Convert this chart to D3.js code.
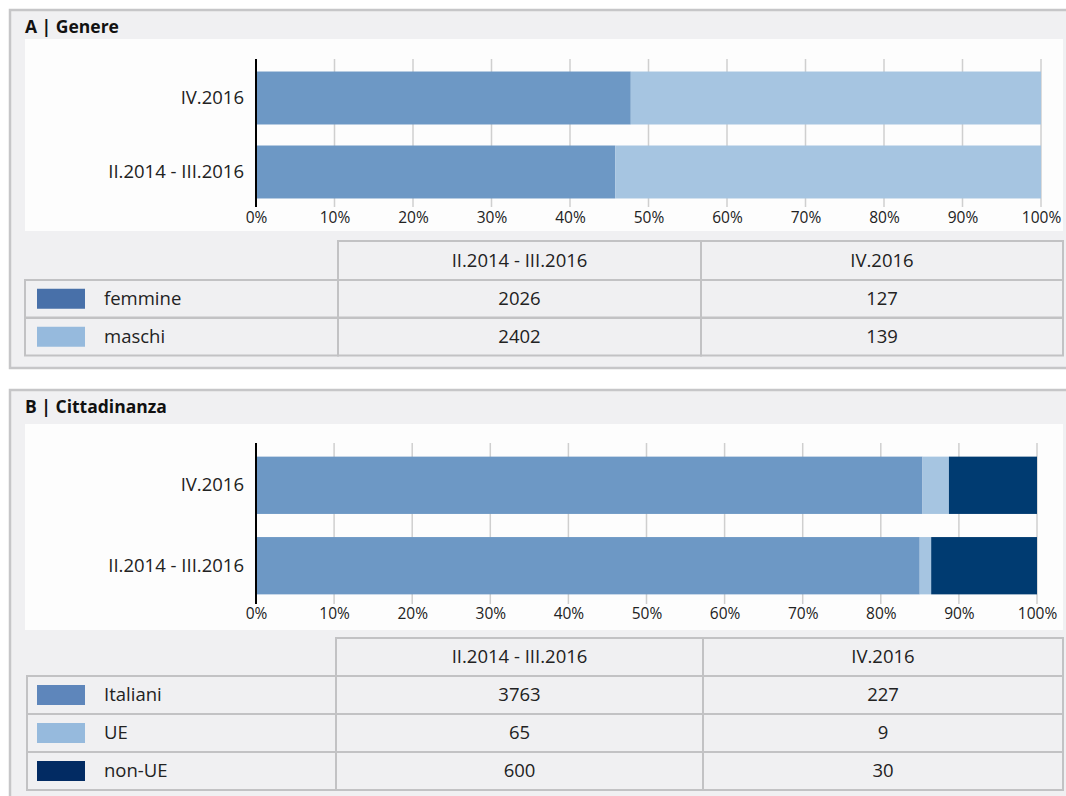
<!DOCTYPE html>
<html><head><meta charset="utf-8">
<script src="https://cdn.jsdelivr.net/npm/d3@7"></script>
<style>
html,body{margin:0;padding:0;background:#fff;}
svg{display:block;font-family:"Open Sans",sans-serif;}
</style></head>
<body>
<svg id="c" width="1066" height="796"></svg>
<script>
// ---- data ----
const periods = ["II.2014 - III.2016", "IV.2016"];
const barOrder = ["IV.2016", "II.2014 - III.2016"];
const genderCats = ["femmine", "maschi"];
const femmine = [2026, 127];
const maschi = [2402, 139];
const citCats = ["Italiani", "UE", "non-UE"];
const italiani = [3763, 227];
const ue = [65, 9];
const nonUE = [600, 30];
const tickValues = [0, 0.1, 0.2, 0.3, 0.4, 0.5, 0.6, 0.7, 0.8, 0.9, 1.0];

const svg = d3.select("#c");
const tickFmt = d3.format(".0%");
const FS = 18.5;

function drawPanel(cfg) {
  const g = svg.append("g");
  g.append("rect").attr("x", 10).attr("y", cfg.top).attr("width", 1070).attr("height", cfg.bottom - cfg.top)
    .attr("fill", "#f0f0f2").attr("stroke", "#c6c6c8").attr("stroke-width", 2.5);
  g.append("text").attr("x", 25).attr("y", cfg.top + 23).attr("font-size", 17.5).attr("font-weight", "bold")
    .attr("fill", "#111").text(cfg.title);
  g.append("rect").attr("x", 25).attr("y", cfg.chartTop).attr("width", 1038).attr("height", cfg.chartBottom - cfg.chartTop)
    .attr("fill", "#fdfdfd");

  const rows = periods.map((p, i) => {
    const r = { period: p };
    cfg.cats.forEach((c, j) => r[c] = cfg.series[j][i]);
    return r;
  });
  const stacked = d3.stack().keys(cfg.cats).offset(d3.stackOffsetExpand)(rows);

  const x = d3.scaleLinear().domain([0, 1]).range([256, cfg.xMax]);
  const y = d3.scaleBand().domain(barOrder).range(cfg.yRange).paddingInner(cfg.pad).paddingOuter(cfg.pad);

  g.append("g").selectAll("line").data(tickValues.slice(1)).join("line")
    .attr("x1", d => x(d)).attr("x2", d => x(d))
    .attr("y1", cfg.gridTop).attr("y2", cfg.gridBottom)
    .attr("stroke", "#cfcfcf").attr("stroke-width", 1.5);

  g.append("g").selectAll("g").data(stacked).join("g")
    .attr("fill", (d, i) => cfg.barColors[i])
    .selectAll("rect").data(d => d).join("rect")
    .attr("x", d => x(d[0])).attr("width", d => x(d[1]) - x(d[0]))
    .attr("y", d => y(d.data.period)).attr("height", y.bandwidth());

  g.append("line").attr("x1", 256).attr("x2", 256).attr("y1", cfg.gridTop).attr("y2", cfg.gridBottom)
    .attr("stroke", "#000").attr("stroke-width", 2);

  const xAxis = d3.axisBottom(x).tickValues(tickValues).tickFormat(tickFmt).tickSize(0).tickPadding(0);
  const ax = g.append("g").attr("transform", `translate(0,${cfg.tickY})`).call(xAxis);
  ax.select(".domain").remove();
  ax.selectAll("text").attr("font-size", 15.5).attr("fill", "#222").attr("font-family", "Open Sans").attr("dy", "0.32em");

  const yAxis = d3.axisLeft(y).tickSize(0).tickPadding(12);
  const ay = g.append("g").attr("transform", "translate(256,0)").call(yAxis);
  ay.select(".domain").remove();
  ay.selectAll("text").attr("font-size", FS).attr("fill", "#222").attr("font-family", "Open Sans");

  const t = cfg.table;
  const cols = [t.c0, t.c1, t.c2, 1063];
  const tg = g.append("g");
  const cellStroke = "#c2c2c4";
  periods.forEach((p, i) => {
    tg.append("rect").attr("x", cols[i + 1]).attr("y", t.headTop).attr("width", cols[i + 2] - cols[i + 1])
      .attr("height", t.rowTops[0] - t.headTop).attr("fill", "#f0f0f2").attr("stroke", cellStroke).attr("stroke-width", 2);
    tg.append("text").attr("x", (cols[i + 1] + cols[i + 2]) / 2).attr("y", (t.headTop + t.rowTops[0]) / 2)
      .attr("dy", "0.35em").attr("text-anchor", "middle").attr("font-size", FS).attr("fill", "#222").text(p);
  });
  cfg.cats.forEach((c, j) => {
    const top = t.rowTops[j], h = t.rowH;
    for (let k = 0; k < 3; k++) {
      tg.append("rect").attr("x", cols[k]).attr("y", top).attr("width", cols[k + 1] - cols[k]).attr("height", h)
        .attr("fill", "#f0f0f2").attr("stroke", cellStroke).attr("stroke-width", 2);
    }
    tg.append("rect").attr("x", 37).attr("y", top + h / 2 - 10).attr("width", 48).attr("height", 20)
      .attr("fill", cfg.legendColors[j]);
    tg.append("text").attr("x", 104).attr("y", top + h / 2).attr("dy", "0.35em").attr("font-size", FS)
      .attr("fill", "#222").text(c);
    cfg.series[j].forEach((v, i) => {
      tg.append("text").attr("x", (cols[i + 1] + cols[i + 2]) / 2).attr("y", top + h / 2).attr("dy", "0.35em")
        .attr("text-anchor", "middle").attr("font-size", FS).attr("fill", "#222").text(v);
    });
  });
}

drawPanel({
  title: "A | Genere", top: 10, bottom: 368, chartTop: 39, chartBottom: 231,
  cats: genderCats, series: [femmine, maschi],
  barColors: ["#6d98c5", "#a6c5e1"], legendColors: ["#4870a9", "#96badd"],
  xMax: 1041, yRange: [50.5, 219.5], pad: 0.284, gridTop: 59, gridBottom: 207, tickY: 218,
  table: { c0: 25, c1: 338, c2: 701, headTop: 241, rowTops: [280, 318], rowH: 37.5 }
});
drawPanel({
  title: "B | Cittadinanza", top: 390, bottom: 800, chartTop: 424, chartBottom: 630,
  cats: citCats, series: [italiani, ue, nonUE],
  barColors: ["#6d98c5", "#a6c5e1", "#003b71"], legendColors: ["#5e86bb", "#96badd", "#022b63"],
  xMax: 1037, yRange: [433.5, 617.5], pad: 0.2875, gridTop: 443, gridBottom: 604, tickY: 614,
  table: { c0: 27, c1: 336, c2: 703, headTop: 638, rowTops: [676, 714, 752], rowH: 38 }
});
</script>
</body></html>
